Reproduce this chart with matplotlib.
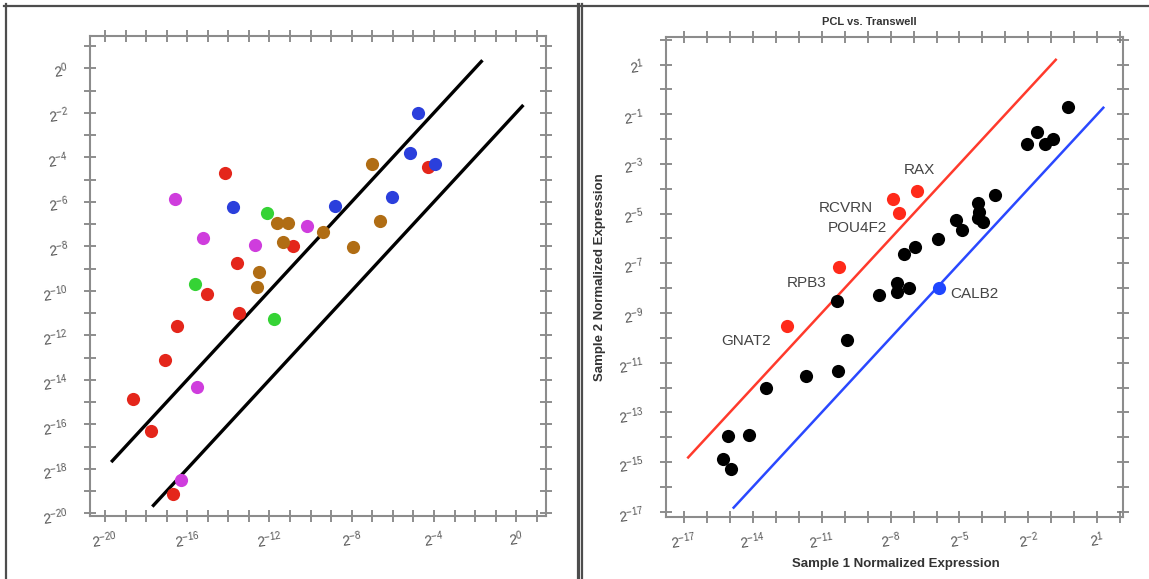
import numpy as np
import matplotlib
matplotlib.use("Agg")
import matplotlib.pyplot as plt
from matplotlib.lines import Line2D
from matplotlib.ticker import FixedLocator, FuncFormatter, NullLocator

plt.rcParams["font.family"] = ["Liberation Sans", "DejaVu Sans"]
plt.rcParams["mathtext.fontset"] = "custom"
plt.rcParams["mathtext.rm"] = "Liberation Sans"
plt.rcParams["mathtext.default"] = "regular"

# ---- left panel: log2 expression values, grouped by colour ----
left_red_x = [-4.31, -14.14, -10.88, -13.57, -15.03, -13.46, -16.48, -17.06, -18.66, -17.74, -16.69]
left_red_y = [-4.45, -4.72, -7.99, -8.74, -10.16, -10.98, -11.57, -13.11, -14.86, -16.29, -19.13]
left_blue_x = [-4.79, -5.15, -3.94, -13.79, -8.83, -6.04]
left_blue_y = [-2.0, -3.82, -4.3, -6.22, -6.17, -5.8]
left_green_x = [-12.12, -15.64, -11.77]
left_green_y = [-6.49, -9.71, -11.28]
left_magenta_x = [-16.58, -10.19, -15.21, -12.7, -15.51, -16.32]
left_magenta_y = [-5.89, -7.09, -7.64, -7.94, -14.34, -18.5]
left_brown_x = [-7.01, -11.61, -11.12, -9.4, -6.63, -11.32, -7.93, -12.49, -12.62]
left_brown_y = [-4.3, -6.97, -6.97, -7.34, -6.86, -7.82, -8.04, -9.17, -9.82]
# fold-change guide lines (log2 offset, x start, x end)
left_upper = (2, -19.7, -1.64)
left_lower = (-2, -17.7, 0.35)

# ---- right panel: PCL vs. Transwell ----
black_x = [-0.29, -1.61, -2.07, -1.27, -0.94, -3.45, -4.18, -4.13, -4.2, -3.96, -5.16, -4.9,
           -5.95, -6.93, -7.41, -10.34, -8.5, -7.73, -7.73, -7.18, -9.91, -11.68, -10.27,
           -13.42, -15.1, -14.16, -15.28, -14.96]
black_y = [-0.72, -1.7, -2.21, -2.21, -2.01, -4.25, -4.59, -4.93, -5.19, -5.35, -5.26, -5.64,
           -6.04, -6.36, -6.63, -8.51, -8.28, -7.81, -8.15, -8.01, -10.07, -11.55, -11.33,
           -12.0, -13.95, -13.92, -14.89, -15.29]
up_genes = ["RAX", "RCVRN", "POU4F2", "RPB3", "GNAT2"]
up_x = [-6.86, -7.88, -7.62, -10.24, -12.52]
up_y = [-4.08, -4.43, -4.97, -7.14, -9.53]
up_label_x = [-6.76, -9.95, -9.45, -11.65, -14.29]
up_label_y = [-3.25, -4.77, -5.57, -7.81, -10.12]
down_genes = ["CALB2"]
down_x = [-5.89]
down_y = [-7.99]
down_label_x = [-4.35]
down_label_y = [-8.25]
right_upper = (2, -16.85, -0.77)
right_lower = (-2, -14.87, 1.3)

W, H = 1149, 579
fig = plt.figure(figsize=(W / 100, H / 100), dpi=100)


def px_rect(x0, y0, x1, y1):
    return [x0 / W, 1 - y1 / H, (x1 - x0) / W, (y1 - y0) / H]


def style_axes(ax, xticks, yticks, xlab, ylab):
    ax.set_xscale("log", base=2)
    ax.set_yscale("log", base=2)
    for s in ax.spines.values():
        s.set_color("#8c8c8c")
        s.set_linewidth(1.5)
    ax.xaxis.set_major_locator(FixedLocator(2.0 ** np.asarray(xticks, float)))
    ax.yaxis.set_major_locator(FixedLocator(2.0 ** np.asarray(yticks, float)))
    ax.xaxis.set_minor_locator(NullLocator())
    ax.yaxis.set_minor_locator(NullLocator())

    def fmt(keep):
        def f(v, pos):
            e = int(round(np.log2(v)))
            return r"$2^{%d}$" % e if e in keep else ""
        return FuncFormatter(f)

    ax.xaxis.set_major_formatter(fmt(xlab))
    ax.yaxis.set_major_formatter(fmt(ylab))
    ax.tick_params(which="major", direction="inout", length=9, width=1.2, color="#7a7a7a",
                   top=True, right=True, labelsize=10, labelcolor="#555555")
    ax.tick_params(axis="x", pad=5)
    ax.tick_params(axis="y", pad=10)
    for lab in ax.get_xticklabels() + ax.get_yticklabels():
        lab.set_rotation(8)


def guide(ax, spec, color, lw):
    off, x0, x1 = spec
    xs = np.array([x0, x1])
    ax.plot(2.0 ** xs, 2.0 ** (xs + off), color=color, lw=lw, solid_capstyle="butt", zorder=2)


# left panel
axl = fig.add_axes(px_rect(90, 36, 546, 515.5))
style_axes(axl, range(-20, 2), range(-20, 2), range(-20, 1, 4), range(-20, 1, 2))
axl.set_xlim(2 ** -20.73, 2 ** 1.45)
axl.set_ylim(2 ** -20.1, 2 ** 1.45)
guide(axl, left_upper, "black", 2.4)
guide(axl, left_lower, "black", 2.4)
ms = 90
for xs, ys, c in [(left_red_x, left_red_y, "#e4261b"),
                  (left_blue_x, left_blue_y, "#2b3fdc"),
                  (left_green_x, left_green_y, "#35d335"),
                  (left_magenta_x, left_magenta_y, "#cf3ddd"),
                  (left_brown_x, left_brown_y, "#b06d14")]:
    axl.scatter(2.0 ** np.array(xs), 2.0 ** np.array(ys), s=ms, color=c, lw=0, zorder=3)

# right panel
axr = fig.add_axes(px_rect(665.5, 37, 1123, 516.5))
style_axes(axr, range(-17, 3), range(-17, 3), range(-17, 2, 3), range(-17, 2, 2))
axr.set_xlim(2 ** -17.8, 2 ** 2.12)
axr.set_ylim(2 ** -17.19, 2 ** 2.11)
guide(axr, right_upper, "#ff3a2c", 1.8)
guide(axr, right_lower, "#2a48ff", 1.8)
axr.scatter(2.0 ** np.array(black_x), 2.0 ** np.array(black_y), s=ms, color="black", lw=0, zorder=3)
axr.scatter(2.0 ** np.array(up_x), 2.0 ** np.array(up_y), s=ms, color="#ff2a1a", lw=0, zorder=3)
axr.scatter(2.0 ** np.array(down_x), 2.0 ** np.array(down_y), s=ms, color="#1f46ff", lw=0, zorder=3)
for g, lx, ly in zip(up_genes + down_genes, up_label_x + down_label_x, up_label_y + down_label_y):
    axr.text(2.0 ** lx, 2.0 ** ly, g, fontsize=11, color="#444444", ha="center", va="center", zorder=4)

fig.text(869 / W, 1 - 22 / H, "PCL vs. Transwell", fontsize=8, fontweight="bold",
         color="#333333", ha="center", va="center")
fig.text(896 / W, 1 - 563.5 / H, "Sample 1 Normalized Expression", fontsize=9.5,
         fontweight="bold", color="#333333", ha="center", va="center")
fig.text(600 / W, 1 - 277 / H, "Sample 2 Normalized Expression", fontsize=9.5,
         fontweight="bold", color="#333333", ha="center", va="center", rotation=90)

# panel frames
frame = "#4d4d4d"
for xs, ys, lw in [([4, W], [5.5, 5.5], 1.6),
                   ([5.5, 5.5], [4, H], 1.6),
                   ([577.7, 577.7], [4, H], 2.3),
                   ([582, 582], [4, H], 1.6)]:
    fig.add_artist(Line2D([x / W for x in xs], [1 - y / H for y in ys], color=frame, lw=lw))

fig.savefig("out.png", dpi=100)
